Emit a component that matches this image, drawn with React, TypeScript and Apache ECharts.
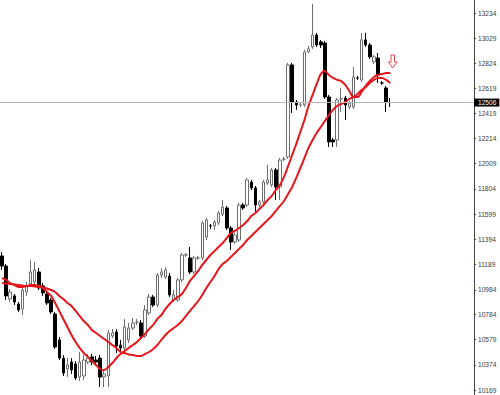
import React, { useEffect, useRef } from "react";
import * as echarts from "echarts";

// Candle slots across the visible window (empty slots on the right)
const slotCount = 116;
const categories: string[] = Array.from({ length: slotCount }, (_, i) => String(i + 1));

// [open, close, low, high]
const candles: number[][] = [
  [11259, 11177, 11145, 11291],
  [11177, 10934, 10901, 11194],
  [10909, 10966, 10885, 10990],
  [10934, 10885, 10860, 10950],
  [10868, 10820, 10804, 10885],
  [10828, 10982, 10779, 11015],
  [10966, 11015, 10934, 11047],
  [11031, 11129, 11015, 11226],
  [11047, 11145, 11023, 11210],
  [11129, 10999, 10982, 11161],
  [11015, 10958, 10934, 11039],
  [10950, 10877, 10860, 10974],
  [10901, 10804, 10787, 10917],
  [10787, 10519, 10503, 10804],
  [10576, 10429, 10413, 10600],
  [10429, 10307, 10283, 10454],
  [10340, 10373, 10275, 10429],
  [10397, 10332, 10299, 10429],
  [10381, 10267, 10251, 10405],
  [10275, 10397, 10242, 10478],
  [10283, 10413, 10251, 10454],
  [10397, 10429, 10381, 10462],
  [10438, 10397, 10373, 10462],
  [10413, 10397, 10364, 10446],
  [10429, 10275, 10194, 10454],
  [10275, 10299, 10194, 10332],
  [10283, 10633, 10194, 10657],
  [10608, 10633, 10592, 10665],
  [10641, 10527, 10470, 10665],
  [10535, 10511, 10478, 10576],
  [10511, 10682, 10478, 10747],
  [10576, 10673, 10551, 10714],
  [10673, 10714, 10657, 10755],
  [10722, 10722, 10698, 10747],
  [10714, 10608, 10592, 10738],
  [10608, 10820, 10592, 10860],
  [10795, 10925, 10779, 10950],
  [10925, 10860, 10844, 10942],
  [10860, 11104, 10844, 11121],
  [11104, 11129, 11080, 11161],
  [11088, 11145, 11072, 11169],
  [11096, 10942, 10925, 11121],
  [10901, 10942, 10885, 10982],
  [10901, 11064, 10885, 11080],
  [11064, 11267, 11047, 11283],
  [11267, 11267, 11251, 11283],
  [11243, 11129, 11112, 11332],
  [11129, 11243, 11112, 11259],
  [11243, 11243, 11226, 11259],
  [11243, 11527, 11226, 11543],
  [11413, 11551, 11389, 11568],
  [11503, 11503, 11478, 11519],
  [11503, 11535, 11470, 11551],
  [11527, 11608, 11511, 11625],
  [11600, 11657, 11584, 11714],
  [11649, 11486, 11470, 11665],
  [11486, 11373, 11308, 11503],
  [11373, 11430, 11356, 11446],
  [11389, 11673, 11373, 11690],
  [11673, 11649, 11633, 11690],
  [11673, 11877, 11657, 11893],
  [11860, 11812, 11795, 11877],
  [11812, 11673, 11608, 11828],
  [11673, 11698, 11657, 11714],
  [11698, 11860, 11681, 11877],
  [11852, 11877, 11836, 11999],
  [11836, 11958, 11820, 11974],
  [11958, 11820, 11714, 11974],
  [11820, 12039, 11714, 12055],
  [12047, 12047, 12031, 12064],
  [12064, 12812, 12047, 12828],
  [12812, 12511, 12421, 12828],
  [12511, 12486, 12446, 12527],
  [12486, 12486, 12470, 12503],
  [12486, 12917, 12470, 12934],
  [12917, 12942, 12909, 12966],
  [12958, 13055, 12942, 13307],
  [13055, 12974, 12958, 13072],
  [12999, 12974, 12950, 13015],
  [12990, 12551, 12535, 13007],
  [12551, 12186, 12145, 12568],
  [12202, 12186, 12145, 12218],
  [12202, 12527, 12145, 12543],
  [12535, 12535, 12429, 12625],
  [12543, 12486, 12364, 12560],
  [12470, 12503, 12454, 12519],
  [12470, 12714, 12454, 12795],
  [12706, 12706, 12690, 12722],
  [12690, 13015, 12673, 13072],
  [13015, 12974, 12958, 13072],
  [12974, 12877, 12860, 12990],
  [12836, 12877, 12820, 12893],
  [12868, 12730, 12665, 12909],
  [12665, 12665, 12649, 12681],
  [12625, 12511, 12429, 12641],
  [12506, 12506, 12470, 12543],
];

const fastMA: number[] = [
  11080, 11064, 11039, 11023, 11007, 11007, 11015, 11023, 11023, 11015,
  10999, 10966, 10934, 10877, 10812, 10747, 10682, 10616, 10559, 10511,
  10470, 10438, 10405, 10373, 10340, 10332, 10356, 10389, 10429, 10462,
  10486, 10511, 10535, 10559, 10592, 10625, 10665, 10698, 10747, 10779,
  10828, 10868, 10901, 10925, 10950, 10999, 11056, 11096, 11137, 11186,
  11226, 11267, 11299, 11332, 11364, 11405, 11446, 11462, 11486, 11511,
  11543, 11584, 11608, 11641, 11673, 11714, 11747, 11795, 11836, 11901,
  11990, 12080, 12169, 12267, 12364, 12478, 12568, 12657, 12738, 12763,
  12730, 12706, 12690, 12681, 12649, 12600, 12551, 12551, 12592, 12641,
  12681, 12714, 12730, 12738, 12747, 12747,
];

const slowMA: number[] = [
  11039, 11035, 11031, 11027, 11023, 11019, 11015, 11015, 11011, 11007,
  11003, 10994, 10982, 10966, 10934, 10909, 10877, 10852, 10812, 10771,
  10730, 10698, 10657, 10633, 10608, 10584, 10559, 10535, 10511, 10478,
  10470, 10458, 10454, 10446, 10446, 10462, 10478, 10503, 10535, 10576,
  10616, 10649, 10673, 10698, 10730, 10771, 10812, 10852, 10893, 10942,
  10999, 11047, 11096, 11153, 11194, 11218, 11251, 11283, 11316, 11348,
  11389, 11421, 11454, 11486, 11519, 11551, 11584, 11625, 11665, 11706,
  11763, 11820, 11893, 11974, 12055, 12137, 12202, 12259, 12307, 12356,
  12405, 12446, 12478, 12495, 12511, 12535, 12551, 12576, 12608, 12633,
  12665, 12690, 12706, 12706, 12690, 12665,
];

const tickLabels: number[] = [
  10169, 10374, 10579, 10784, 10984, 11189, 11394, 11599,
  11804, 12009, 12214, 12419, 12619, 12824, 13029, 13234,
];

const currentPrice = 12506;
const yMin = 10128.6;
const yMax = 13339.7;

export default function App() {
  const ref = useRef<HTMLDivElement>(null);

  useEffect(() => {
    if (!ref.current) return;
    const chart = echarts.init(ref.current, undefined, { renderer: "svg" });
    const red = "#e4161b";
    chart.setOption({
      animation: false,
      backgroundColor: "#ffffff",
      grid: { left: -1.25, right: 26, top: 0, bottom: 0, containLabel: false },
      xAxis: {
        type: "category",
        data: categories,
        show: false,
        boundaryGap: true,
      },
      yAxis: {
        type: "value",
        position: "right",
        min: yMin,
        max: yMax,
        scale: true,
        splitLine: { show: false },
        axisLine: { show: true, lineStyle: { color: "#444", width: 1 } },
        axisTick: {
          show: true,
          length: 2,
          inside: false,
          lineStyle: { color: "#444" },
          customValues: tickLabels,
        },
        axisLabel: {
          show: true,
          customValues: tickLabels,
          margin: 4,
          fontSize: 6.6,
          color: "#3a3a3a",
          fontFamily: "Liberation Sans, Arial, sans-serif",
          formatter: (v: number) => String(Math.round(v)),
        },
      },
      series: [
        {
          type: "candlestick",
          data: candles,
          barWidth: 3,
          itemStyle: {
            color: "#ffffff",
            color0: "#000000",
            borderColor: "#6e6e6e",
            borderColor0: "#000000",
            borderWidth: 1,
          },
          markLine: {
            silent: true,
            symbol: ["none", "none"],
            lineStyle: { color: "#b8b8b8", width: 1, type: "solid" },
            label: {
              show: true,
              position: "end",
              distance: 0,
              formatter: String(currentPrice),
              color: "#ffffff",
              backgroundColor: "#000000",
              fontSize: 6.6,
              fontFamily: "Liberation Sans, Arial, sans-serif",
              padding: [1, 3, 0, 4],
            },
            data: [{ yAxis: currentPrice }],
          },
          z: 2,
        },
        {
          type: "line",
          data: fastMA,
          showSymbol: false,
          smooth: 0.3,
          lineStyle: { color: red, width: 2 },
          itemStyle: { color: red },
          z: 3,
        },
        {
          type: "line",
          data: slowMA,
          showSymbol: false,
          smooth: 0.3,
          lineStyle: { color: red, width: 2 },
          itemStyle: { color: red },
          z: 3,
        },
      ],
      graphic: [
        {
          type: "polygon",
          shape: {
            points: [
              [391, 55],
              [394.5, 55],
              [394.5, 62],
              [397, 62],
              [392.7, 68],
              [388.4, 62],
              [391, 62],
            ],
          },
          style: { fill: "#ffffff", stroke: "#e8454a", lineWidth: 1 },
          z: 10,
        },
      ],
    });
    return () => chart.dispose();
  }, []);

  return (
    <div
      ref={ref}
      style={{
        position: "fixed",
        left: 0,
        top: 0,
        width: 500,
        height: 395,
        background: "#ffffff",
      }}
    />
  );
}
